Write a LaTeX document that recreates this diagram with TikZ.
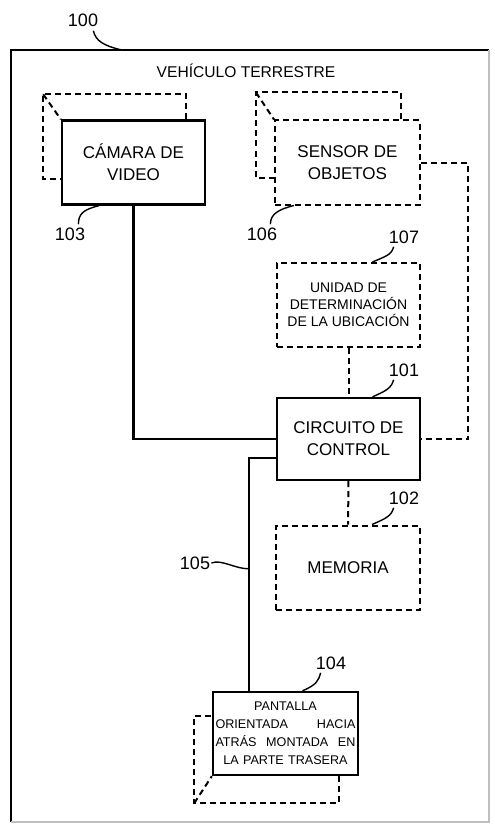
\documentclass[tikz,border=0pt]{standalone}
\usepackage{fontspec}
\setmainfont{Liberation Sans}
\usetikzlibrary{calc}

\begin{document}
\begin{tikzpicture}[
  x=0.5pt, y=-0.5pt,
  box/.style   ={rectangle, draw, line width=1.2pt, align=center,
                 minimum width=71.5pt, minimum height=42pt, inner sep=1pt,
                 font=\fontsize{8.5}{11}\selectfont},
  dbox/.style  ={box, line width=1pt, dash pattern=on 3pt off 2pt},
  back/.style  ={line width=1pt, dash pattern=on 3pt off 2pt},
  link/.style  ={line width=1.1pt},
  dlink/.style ={line width=1pt, dash pattern=on 3pt off 2pt},
  refnum/.style={font=\fontsize{9}{10}\selectfont, inner sep=0.5pt},
  leader/.style={line width=0.7pt}
]
\useasboundingbox (0,0) rectangle (494,824);

%--- Vehicle frame ----------------------------------------------------------
\draw[line width=1.2pt] (11,822) |- (489,50);
\draw[line width=0.8pt, black!25] (489,50) |- (11,822);
\coordinate (frametop) at (122,50);
\node[font=\fontsize{7.8}{9}\selectfont] (vehicle) at (246,71) {VEHÍCULO TERRESTRE};

%--- Blocks -----------------------------------------------------------------
\node[box]  (cam)  at (133.5,162.5) {CÁMARA DE\\VIDEO};
\node[dbox, minimum width=72.5pt] (sensor) at (347.5,162.5) {SENSOR DE\\OBJETOS};
\node[dbox, minimum height=42pt, font=\fontsize{7}{8.5}\selectfont]
            (locunit) at (348.5,305) {UNIDAD DE\\DETERMINACIÓN\\DE LA UBICACIÓN};
\node[box, minimum height=41pt] (ctrl) at (348.5,439) {CIRCUITO DE\\CONTROL};
\node[dbox, minimum width=72pt] (mem) at (348,567.5) {MEMORIA};
\node[box, minimum width=72.5pt, minimum height=41.5pt, text width=70pt,
      font=\fontsize{6.3}{9}\selectfont]
            (disp) at (285.5,733.5) {PANTALLA\\ORIENTADA\hfill HACIA\\ATRÁS\hfill MONTADA\hfill EN\\LA PARTE TRASERA};

%--- Stacked copies ---------------------------------------------------------
\draw[back] ($(cam.north east)+(-20,0)$) -- ++(0,-25) -- ++(-143,0) coordinate (camback)
            -- ++(0,85) -- ++(20,0);
\draw[back] (camback) -- (cam.north west);
\draw[back] ($(sensor.north east)+(-20,0)$) -- ++(0,-27) -- ++(-145,0) coordinate (sensback)
            -- ++(0,85) -- ++(20,0);
\draw[back] (sensback) -- (sensor.north west);
\draw[back] ($(disp.south east)+(-20,0)$) -- ++(0,27) -- ++(-145,0) coordinate (dispback)
            -- ++(0,-87) -- ++(20,0);
\draw[back] (dispback) -- (disp.south west);

%--- Connections ------------------------------------------------------------
\draw[link] (cam.south) |- (ctrl.west);
\draw[link] ($(ctrl.west)+(0,19)$) -| ($(disp.north west)+(37,0)$);
\draw[dlink] (locunit) -- (ctrl);
\draw[dlink] (ctrl) -- (mem);
\draw[dlink] (sensor.east) -- ++(47,0) |- (ctrl.east);

%--- Reference numerals -----------------------------------------------------
\node[refnum] (n100) at (83,20)  {100};
\node[refnum] (n103) at (70,234) {103};
\node[refnum] (n106) at (262,234) {106};
\node[refnum] (n107) at (404,237) {107};
\node[refnum] (n101) at (404,370) {101};
\node[refnum] (n102) at (404,498) {102};
\node[refnum] (n105) at (195,563) {105};
\node[refnum] (n104) at (331,663) {104};

\draw[leader] ($(n100.south east)+(-6,3)$) .. controls +(2,10) and +(-18,-4) .. (frametop);
\draw[leader] ($(n103.north east)+(-8,-2)$) .. controls +(0,-10) and +(-16,4) .. ($(cam.south west)+(38,0)$);
\draw[leader] ($(n106.north east)+(-8,-2)$) .. controls +(0,-10) and +(-16,4) .. ($(sensor.south west)+(20,0)$);
\draw[leader] ($(n107.south west)+(6,2)$) .. controls +(-2,8) and +(14,-6) .. ($(locunit.north)+(24,0)$);
\draw[leader] ($(n101.south west)+(6,2)$) .. controls +(-2,8) and +(14,-6) .. ($(ctrl.north)+(24,0)$);
\draw[leader] ($(n102.south west)+(6,2)$) .. controls +(-2,8) and +(14,-6) .. ($(mem.north)+(24,0)$);
\draw[leader] (n105.east) .. controls +(10,-4) and +(-14,0) .. ($(disp.north west)+(37,-122)$);
\draw[leader] ($(n104.south west)+(6,2)$) .. controls +(-2,8) and +(14,-6) .. ($(disp.north)+(17,0)$);
\end{tikzpicture}
\end{document}
